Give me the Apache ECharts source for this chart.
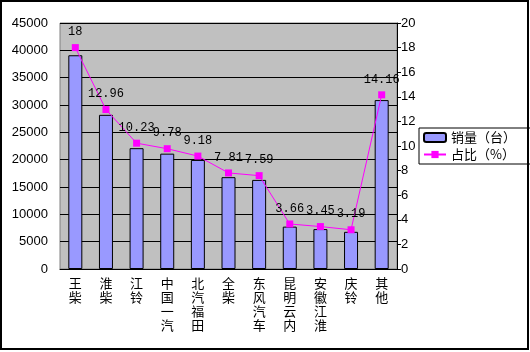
<!DOCTYPE html>
<html>
<head>
<meta charset="utf-8">
<script src="https://cdn.jsdelivr.net/npm/echarts@6/dist/echarts.min.js"></script>
<style>
  html, body { margin: 0; padding: 0; background: #fff; }
  #chart { width: 530px; height: 352px; }
</style>
</head>
<body>
<div id="chart"></div>
<script>
// 品牌
const categories = ["王柴", "淮柴", "江铃", "中国一汽", "北汽福田", "全柴", "东风汽车", "昆明云内", "安徽江淮", "庆铃", "其他"];
// 销量（台）
const sales = [39100, 28200, 22100, 21100, 19950, 16800, 16300, 7750, 7300, 6800, 30900];
// 占比（%）
const shares = [18, 12.96, 10.23, 9.78, 9.18, 7.81, 7.59, 3.66, 3.45, 3.19, 14.16];

const cjk = '"Noto Sans CJK SC", sans-serif';
const chart = echarts.init(document.getElementById("chart"));

chart.setOption({
    animation: false,
    backgroundColor: "#fff",
    grid: {
        left: 60,
        right: 133,
        top: 23,
        bottom: 83,
        show: true,
        backgroundColor: "#C0C0C0",
        borderColor: "#808080",
        borderWidth: 1,
    },
    legend: {
        left: 419,
        top: 128,
        orient: "vertical",
        backgroundColor: "#fff",
        borderColor: "#000",
        borderWidth: 1,
        borderRadius: 0,
        padding: [3, 18, 3, 4],
        itemGap: 4,
        itemWidth: 22,
        itemHeight: 9,
        textStyle: { fontFamily: cjk, fontSize: 13, color: "#000" },
        data: ["销量（台）", "占比（%）"],
    },
    xAxis: {
        type: "category",
        data: categories,
        axisLine: { lineStyle: { color: "#000" } },
        axisTick: { inside: true, length: 4, lineStyle: { color: "#000" } },
        axisLabel: {
            interval: 0,
            margin: 7,
            fontFamily: cjk,
            fontSize: 13,
            lineHeight: 14,
            color: "#000",
            verticalAlign: "top",
            formatter: (v) => v.split("").join("\n"),
        },
    },
    yAxis: [
        {
            type: "value",
            min: 0,
            max: 45000,
            interval: 5000,
            axisLine: { show: false },
            axisTick: { show: false },
            axisLabel: {
                margin: 12,
                fontFamily: "Liberation Sans",
                fontSize: 13,
                color: "#000",
                formatter: (v) => String(v),
            },
            splitLine: { lineStyle: { color: "#000", width: 1 } },
        },
        {
            type: "value",
            min: 0,
            max: 20,
            interval: 2,
            position: "right",
            axisLine: { show: true, lineStyle: { color: "#000" } },
            axisTick: { show: true, length: 4, lineStyle: { color: "#000" } },
            axisLabel: { margin: 4, fontFamily: "Liberation Sans", fontSize: 13, color: "#000" },
            splitLine: { show: false },
        },
    ],
    series: [
        {
            name: "销量（台）",
            type: "bar",
            data: sales,
            barWidth: 14,
            itemStyle: { color: "#9999FF", borderColor: "#000", borderWidth: 1 },
        },
        {
            name: "占比（%）",
            type: "line",
            yAxisIndex: 1,
            data: shares,
            symbol: "rect",
            symbolSize: 7,
            lineStyle: { color: "#FF00FF", width: 1 },
            itemStyle: { color: "#FF00FF" },
            label: {
                show: true,
                position: "top",
                distance: 6,
                fontFamily: "Liberation Mono",
                fontSize: 12,
                color: "#000",
            },
        },
    ],
    graphic: [
        {
            type: "rect",
            shape: { x: 1, y: 1, width: 527, height: 348 },
            style: { fill: "none", stroke: "#000", lineWidth: 2 },
            silent: true,
            z: 100,
        },
    ],
});
</script>
</body>
</html>
